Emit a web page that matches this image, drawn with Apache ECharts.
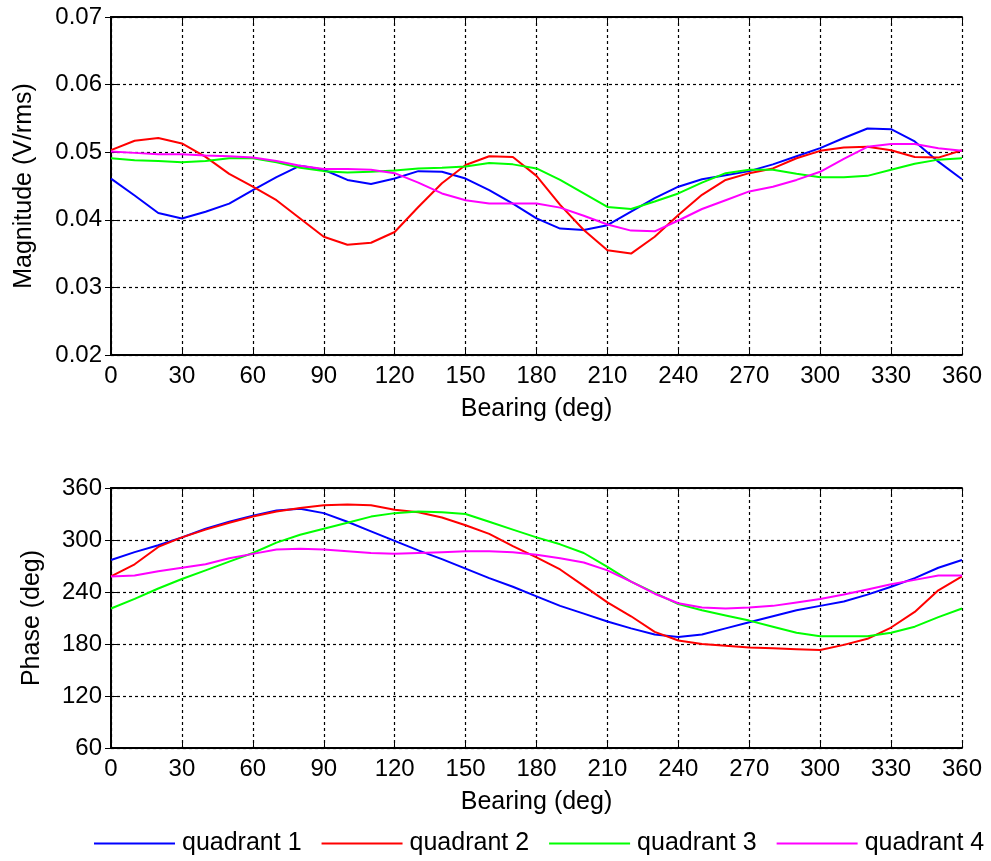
<!DOCTYPE html>
<html>
<head>
<meta charset="utf-8">
<script src="https://cdn.jsdelivr.net/npm/echarts@6/dist/echarts.min.js"></script>
<style>
  html, body { margin: 0; padding: 0; background: #fff; }
  #chart { width: 991px; height: 861px; }
</style>
</head>
<body>
<div id="chart"></div>
<script>
// Bearing samples (deg)
const bearing = [0,10,20,30,40,50,60,70,80,90,100,110,120,130,140,150,160,170,180,
                 190,200,210,220,230,240,250,260,270,280,290,300,310,320,330,340,350,360];

// Magnitude (V/rms) per quadrant
const magQ1 = [0.0461,0.0436,0.0410,0.0402,0.0412,0.0424,0.0444,0.0463,0.0480,0.0474,0.0459,0.0453,0.0461,0.0472,0.0471,0.0461,0.0444,0.0424,0.0402,
               0.0387,0.0385,0.0392,0.0412,0.0432,0.0449,0.0460,0.0466,0.0472,0.0482,0.0494,0.0506,0.0521,0.0535,0.0534,0.0516,0.0486,0.0460];
const magQ2 = [0.0503,0.0517,0.0521,0.0513,0.0493,0.0468,0.0449,0.0429,0.0402,0.0375,0.0363,0.0366,0.0382,0.0419,0.0454,0.0481,0.0494,0.0493,0.0465,
               0.0422,0.0385,0.0355,0.0350,0.0375,0.0407,0.0437,0.0459,0.0469,0.0476,0.0491,0.0502,0.0507,0.0508,0.0503,0.0493,0.0492,0.0503];
const magQ3 = [0.0491,0.0488,0.0487,0.0485,0.0487,0.0491,0.0491,0.0485,0.0477,0.0472,0.0470,0.0471,0.0473,0.0476,0.0477,0.0479,0.0484,0.0482,0.0476,
               0.0459,0.0439,0.0419,0.0416,0.0427,0.0439,0.0455,0.0469,0.0474,0.0474,0.0468,0.0463,0.0463,0.0465,0.0474,0.0483,0.0489,0.0491];
const magQ4 = [0.0501,0.0499,0.0497,0.0497,0.0495,0.0494,0.0492,0.0487,0.0480,0.0475,0.0475,0.0474,0.0469,0.0455,0.0439,0.0429,0.0424,0.0424,0.0424,
               0.0418,0.0406,0.0393,0.0384,0.0383,0.0399,0.0416,0.0429,0.0442,0.0449,0.0459,0.0471,0.0490,0.0508,0.0512,0.0512,0.0506,0.0502];

// Phase (deg) per quadrant
const phaseQ1 = [277,286,294,303,313,321,328,334,336,331,321,310,299,288,278,267,256,246,235,
                 224,215,206,198,191,188,191,198,205,212,219,224,229,237,246,256,268,277];
const phaseQ2 = [258,272,292,303,312,320,327,333,337,340,341,340,335,332,326,317,307,293,280,
                 266,247,228,212,194,184,180,178,176,175,174,173,179,186,199,217,242,258];
const phaseQ3 = [221,232,244,255,265,275,285,297,306,313,320,327,331,333,332,330,321,312,303,
                 295,285,269,252,239,226,219,213,207,200,193,189,189,189,193,200,211,221];
const phaseQ4 = [258,259,264,268,272,279,284,289,290,289,287,285,284,285,286,287,287,286,283,
                 279,274,265,252,238,227,222,221,222,224,228,232,237,243,249,254,259,259];

const seriesNames = ['quadrant 1', 'quadrant 2', 'quadrant 3', 'quadrant 4'];
const seriesColors = ['#0000ff', '#ff0000', '#00ff00', '#ff00ff'];

const FONT = 'Liberation Sans, Arial, sans-serif';
const FS_TICK = 24;
const FS_NAME = 25;

const pairs = (ys) => bearing.map((b, i) => [b, ys[i]]);

const dashGrid = { show: true, lineStyle: { color: '#000', width: 1.2, type: [3, 3] } };
const tick = { show: true, inside: true, length: 6, lineStyle: { color: '#000', width: 1 } };
const line = { show: true, lineStyle: { color: '#000', width: 1.8 } };

function xAxes(gridIndex) {
  return [
    {
      type: 'value', gridIndex, min: 0, max: 360, interval: 30, position: 'bottom',
      name: 'Bearing (deg)', nameLocation: 'middle', nameGap: 42,
      nameTextStyle: { fontFamily: FONT, fontSize: FS_NAME, color: '#000' },
      axisLine: line, axisTick: tick, splitLine: dashGrid,
      axisLabel: { fontFamily: FONT, fontSize: FS_TICK, color: '#000', margin: 9 }
    },
    {
      type: 'value', gridIndex, min: 0, max: 360, interval: 30, position: 'top',
      axisLine: line, axisTick: tick, splitLine: { show: false }, axisLabel: { show: false }
    }
  ];
}

function yAxes(gridIndex, min, max, interval, name, nameGap, fmt) {
  return [
    {
      type: 'value', gridIndex, min, max, interval, position: 'left',
      name, nameLocation: 'middle', nameGap,
      nameTextStyle: { fontFamily: FONT, fontSize: FS_NAME, color: '#000' },
      axisLine: line, axisTick: tick, splitLine: dashGrid,
      axisLabel: { fontFamily: FONT, fontSize: FS_TICK, color: '#000', margin: 9, formatter: fmt }
    },
    {
      type: 'value', gridIndex, min, max, interval, position: 'right',
      axisLine: line, axisTick: tick, splitLine: { show: false }, axisLabel: { show: false }
    }
  ];
}

const magData = [magQ1, magQ2, magQ3, magQ4];
const phaseData = [phaseQ1, phaseQ2, phaseQ3, phaseQ4];

const series = [];
seriesNames.forEach((n, i) => {
  series.push({
    name: n, type: 'line', xAxisIndex: 0, yAxisIndex: 0,
    data: pairs(magData[i]), symbol: 'none', color: seriesColors[i],
    lineStyle: { width: 2, color: seriesColors[i] }, animation: false
  });
});
seriesNames.forEach((n, i) => {
  series.push({
    name: n, type: 'line', xAxisIndex: 2, yAxisIndex: 2,
    data: pairs(phaseData[i]), symbol: 'none', color: seriesColors[i],
    lineStyle: { width: 2, color: seriesColors[i] }, animation: false
  });
});

const chart = echarts.init(document.getElementById('chart'), null, { renderer: 'canvas' });
chart.setOption({
  backgroundColor: '#fff',
  animation: false,
  textStyle: { fontFamily: FONT },
  grid: [
    { left: 111, top: 17, width: 851, height: 338 },
    { left: 111, top: 488, width: 851, height: 260 }
  ],
  xAxis: [...xAxes(0), ...xAxes(1)],
  yAxis: [
    ...yAxes(0, 0.02, 0.07, 0.01, 'Magnitude (V/rms)', 74, (v) => v.toFixed(2)),
    ...yAxes(1, 60, 360, 60, 'Phase (deg)', 66, (v) => String(v))
  ],
  legend: {
    data: seriesNames,
    left: 94, top: 831, padding: 0,
    icon: 'rect',
    itemWidth: 81, itemHeight: 2, itemGap: 20,
    textStyle: { fontFamily: FONT, fontSize: FS_NAME, color: '#000', padding: [0, 0, 0, 2] }
  },
  series
});
</script>
</body>
</html>
